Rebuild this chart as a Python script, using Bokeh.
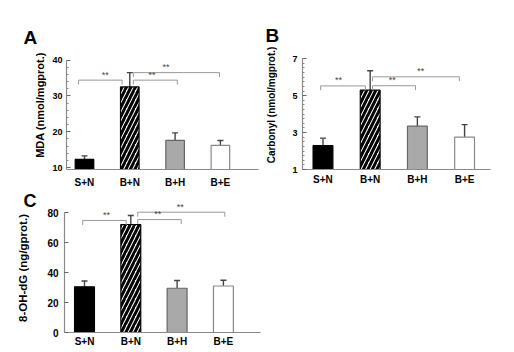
import numpy as np
from bokeh.plotting import figure
from bokeh.models import FixedTicker, Whisker, ColumnDataSource, TeeHead, Range1d
from bokeh.layouts import column, row
from bokeh.embed import file_html
from bokeh.resources import INLINE
from bokeh.core.properties import value

# ---------------- data ----------------
groups = ["S+N", "B+N", "B+H", "B+E"]

mda = [12.3, 32.5, 17.6, 16.2]          # nmol/mgprot.
mda_err = [1.0, 4.0, 2.1, 1.4]

carbonyl = [2.3, 5.3, 3.35, 2.75]       # nmol/mgprot.
carbonyl_err = [0.4, 1.05, 0.5, 0.68]

ohdg = [30.5, 72.0, 29.5, 31.0]         # ng/gprot.
ohdg_err = [3.8, 6.0, 5.2, 3.8]

mda_ticks = [10, 20, 30, 40]
carbonyl_ticks = [1, 3, 5, 7]
ohdg_ticks = [0, 20, 40, 60, 80]

# significance brackets: (from group, to group, level)
mda_sig = [(0, 1, 34.4), (1, 2, 34.4), (1, 3, 36.5)]
carbonyl_sig = [(0, 1, 5.53), (1, 2, 5.54), (1, 3, 6.02)]
ohdg_sig = [(0, 1, 74.7), (1, 2, 75.3), (1, 3, 80.2)]

FONT_NAME = "Liberation Sans"
FONT = value(FONT_NAME)
fills = ["#000000", "#ffffff", "#a9a9a9", "#ffffff"]
outlines = ["#000000", "#000000", "#666666", "#888888"]
hatches = [" ", "/", " ", " "]


def panel(vals, errs, sig, majors, minors, yr, ybounds, width, height,
          fl, fr, ft, fb, xr, bw, star_x, br_x, letter, letter_off,
          letter_standoff, letter_size, ylabel, ylabel_size, ylabel_standoff,
          ytick_size, ystand, xstand):
    p = figure(width=width, height=height, x_range=Range1d(*xr),
               y_range=Range1d(*yr), output_backend="svg",
               toolbar_location=None, min_border_left=fl,
               min_border_right=width - fr, min_border_top=ft,
               min_border_bottom=height - fb)
    p.outline_line_color = None
    p.grid.visible = False
    p.background_fill_color = "white"
    p.border_fill_color = "white"

    # panel letter as the title
    p.title.text = letter
    p.title.align = "left"
    p.title.offset = letter_off
    p.title.standoff = letter_standoff
    p.title.text_font = FONT_NAME
    p.title.text_font_style = "bold"
    p.title.text_font_size = letter_size
    p.title.text_color = "black"

    x = list(range(len(groups)))
    tops = [v + e for v, e in zip(vals, errs)]
    src = ColumnDataSource(dict(x=x, val=vals, top=tops, fill=fills,
                                line=outlines, hatch=hatches))
    p.vbar(x="x", top="val", bottom=yr[0], width=bw, source=src,
           fill_color="fill", line_color="line", line_width=1.2,
           hatch_pattern="hatch", hatch_color="black", hatch_scale=9,
           hatch_weight=3)
    p.add_layout(Whisker(source=src, base="x", upper="top", lower="val",
                         line_color="#444444", line_width=1.4,
                         upper_head=TeeHead(size=6, line_color="#444444",
                                            line_width=1.4),
                         lower_head=None))

    # brackets
    px_per_unit = (fb - ft) / (yr[1] - yr[0])
    drop = 4.5 / px_per_unit
    xs, ys = [], []
    for (a, b, lvl), (xa, xb) in zip(sig, br_x):
        xs.append([a + xa, a + xa, b + xb, b + xb])
        ys.append([lvl - drop, lvl, lvl, lvl - drop])
    p.multi_line(xs=xs, ys=ys, line_color="#999999", line_width=1)
    p.text(x=star_x, y=[s[2] + 0.5 / px_per_unit for s in sig],
           text=["**"] * len(sig), text_font=FONT, text_font_size="9px",
           text_align="center", text_baseline="bottom", text_color="#444444")

    # axes
    xa = p.xaxis[0]
    xa.ticker = FixedTicker(ticks=x)
    xa.major_label_overrides = {i: g for i, g in enumerate(groups)}
    xa.major_tick_line_color = None
    xa.minor_tick_line_color = None
    xa.major_tick_out = 0
    xa.major_tick_in = 0
    xa.minor_tick_out = 0
    xa.minor_tick_in = 0
    xa.axis_line_color = "#8a8a8a"
    xa.axis_line_width = 1.2
    xa.major_label_text_font = FONT_NAME
    xa.major_label_text_font_style = "bold"
    xa.major_label_text_font_size = "10px"
    xa.major_label_text_color = "black"
    xa.major_label_standoff = xstand

    ya = p.yaxis[0]
    ya.ticker = FixedTicker(ticks=majors, minor_ticks=minors)
    ya.bounds = ybounds
    ya.axis_line_color = "#8a8a8a"
    ya.axis_line_width = 1.2
    ya.major_tick_in = 4
    ya.major_tick_out = 0
    ya.minor_tick_in = 2
    ya.minor_tick_out = 0
    ya.major_tick_line_color = "#666666"
    ya.minor_tick_line_color = "#888888"
    ya.major_label_text_font = FONT_NAME
    ya.major_label_text_font_style = "bold"
    ya.major_label_text_font_size = ytick_size
    ya.major_label_text_color = "black"
    ya.major_label_standoff = ystand
    ya.axis_label = ylabel
    ya.axis_label_text_font = FONT_NAME
    ya.axis_label_text_font_style = "bold"
    ya.axis_label_text_font_size = ylabel_size
    ya.axis_label_text_color = "black"
    ya.axis_label_standoff = ylabel_standoff
    return p


# frame extends above the top tick so the axis title centres where the
# reference has it; the axis line itself is limited by bounds
pA = panel(mda, mda_err, mda_sig, mda_ticks,
           [t for t in range(12, 40, 2) if t % 10], (9.5, 45.45), (9.5, 40),
           260, 190, 66, 258, 37, 169, (-0.397, 3.841), 0.41,
           [0.46, 1.49, 1.8], [(-0.13, -0.17), (0.08, 0.05), (0.08, -0.02)],
           "A", -43, -14, "19px", "MDA (nmol/mgprot.)", "11px", 3, "9px", 4, 7)

pB = panel(carbonyl, carbonyl_err, carbonyl_sig, carbonyl_ticks,
           [1 + 0.25 * i for i in range(1, 24) if i % 8], (1, 7.99), (1, 7),
           254, 190, 42, 230, 40, 174, (-0.434, 3.549), 0.42,
           [0.33, 1.47, 2.07], [(-0.05, -0.1), (0.05, -0.04), (0.05, -0.11)],
           "B", -37, -10, "19px", "Carbonyl (nmol/mgprot.)", "10px", 12, "9px",
           5, 4)

pC = panel(ohdg, ohdg_err, ohdg_sig, ohdg_ticks, [], (0, 86), (0, 80),
           514, 162, 64, 260, 13, 142, (-0.432, 3.801), 0.43,
           [0.475, 1.58, 2.07], [(-0.04, -0.1), (0.15, 0.09), (0.15, 0.03)],
           "C", -41, -15, "18px", "8-OH-dG (ng/gprot.)", "11.5px", 15, "10px",
           6, 3)

layout = column(row(pA, pB), pC)
open("out.html", "w").write(file_html(layout, INLINE))
